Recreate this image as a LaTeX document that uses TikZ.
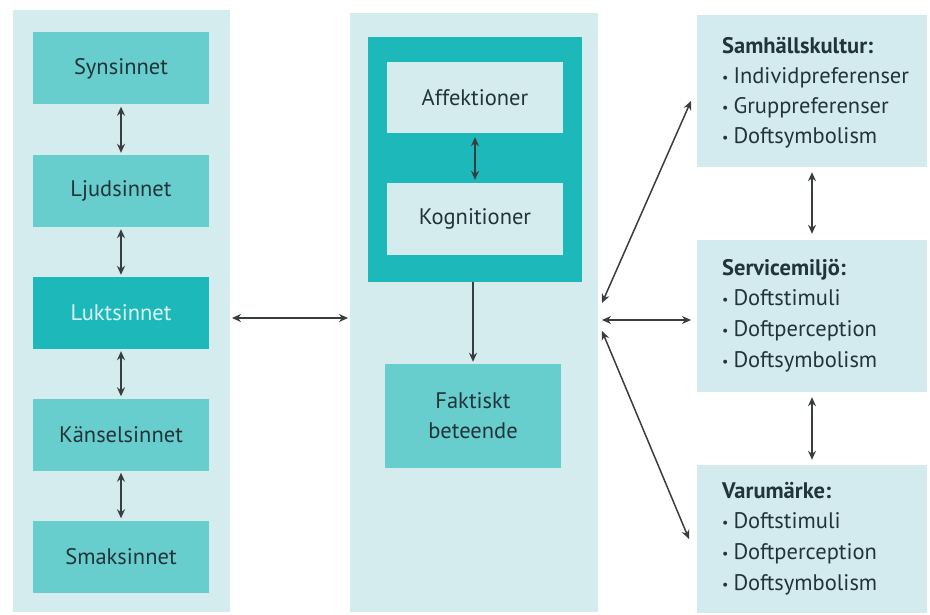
\documentclass[tikz,border=0pt]{standalone}
\usepackage{fontspec}
\setmainfont{PT Sans}
\usetikzlibrary{arrows.meta}

\definecolor{panelbg}{HTML}{D5ECEF}
\definecolor{rightbg}{HTML}{D3EAEE}
\definecolor{tealmid}{HTML}{68CDCD}
\definecolor{tealdark}{HTML}{1DB8BA}
\definecolor{inkdark}{HTML}{22343B}
\definecolor{inklight}{HTML}{DDF7F7}
\definecolor{arrowgray}{HTML}{383D40}

\tikzset{
  panel/.style={fill=panelbg, draw=none, inner sep=0pt},
  sensebox/.style={fill=tealmid, draw=none, minimum width=176pt, minimum height=72pt,
    text=inkdark, font=\fontsize{22.5}{30}\selectfont, align=center, inner sep=0pt},
  keybox/.style={sensebox, fill=tealdark, text=inklight},
  innerbox/.style={sensebox, fill=panelbg},
  frame/.style={fill=tealdark, draw=none, inner sep=0pt},
  infobox/.style={fill=rightbg, draw=none, inner sep=0pt, minimum width=230pt},
  infoline/.style={anchor=base west, inner sep=0pt, text=inkdark,
    font=\fontsize{22.5}{30}\selectfont},
  link/.style={draw=arrowgray, line width=1.5pt,
    {Stealth[length=9pt,width=8pt]}-{Stealth[length=9pt,width=8pt]}},
  onelink/.style={draw=arrowgray, line width=1.5pt, -{Stealth[length=9pt,width=8pt]}},
}
\newcommand{\bul}{\raisebox{1pt}{\fontsize{14}{14}\selectfont\textbullet}\hspace{5pt}}

\begin{document}
\begin{tikzpicture}[x=1pt,y=-1pt]
  \useasboundingbox (0,0) rectangle (930,615);

  % senses column
  \node[panel, minimum width=217pt, minimum height=602pt] (left) at (121.5,311) {};
  \node[sensebox] (syn) at (121,68.5) {Synsinnet};
  \node[sensebox] (ljud) at (121,191) {Ljudsinnet};
  \node[keybox] (lukt) at (121,313) {Luktsinnet};
  \node[sensebox] (kans) at (121,434.5) {Känselsinnet};
  \node[sensebox] (smak) at (121,556.5) {Smaksinnet};

  \draw[link, shorten <=2pt, shorten >=2pt] (syn) -- (ljud);
  \draw[link, shorten <=2pt, shorten >=2pt] (ljud) -- (lukt);
  \draw[link, shorten <=2pt, shorten >=2pt] (lukt) -- (kans);
  \draw[link, shorten <=2pt, shorten >=2pt] (kans) -- (smak);

  % response column
  \node[panel, minimum width=248pt, minimum height=599pt] (mid) at (474,312.5) {};
  \node[frame, minimum width=214pt, minimum height=245pt] (inner) at (475,159.5) {};
  \node[innerbox, minimum height=71pt] (aff) at (475,97.5) {Affektioner};
  \node[innerbox] (kog) at (475,219) {Kognitioner};
  \node[sensebox, minimum height=104pt] (fakt) at (473,416) {Faktiskt\\beteende};

  \draw[link, shorten <=4pt, shorten >=3pt] (aff) -- (kog);
  \draw[onelink, shorten >=2pt] (inner.south -| fakt.north) -- (fakt.north);

  % context column
  \node[infobox, minimum height=152pt] (sam) at (812,91) {};
  \node[infobox, minimum height=152pt] (serv) at (812,316) {};
  \node[infobox, minimum height=148pt] (varu) at (812,539) {};

  \node[infoline] (samt) at (722,54) {\bfseries Samhällskultur:};
  \node[infoline] (sam1) at (722,84) {\bul Individpreferenser};
  \node[infoline] (sam2) at (722,114) {\bul Gruppreferenser};
  \node[infoline] (sam3) at (722,144) {\bul Doftsymbolism};

  \node[infoline] (servt) at (722,275) {\bfseries Servicemiljö:};
  \node[infoline] (serv1) at (722,305) {\bul Doftstimuli};
  \node[infoline] (serv2) at (722,336) {\bul Doftperception};
  \node[infoline] (serv3) at (722,367) {\bul Doftsymbolism};

  \node[infoline] (varut) at (722,498) {\bfseries Varumärke:};
  \node[infoline] (varu1) at (722,528) {\bul Doftstimuli};
  \node[infoline] (varu2) at (722,559) {\bul Doftperception};
  \node[infoline] (varu3) at (722,590) {\bul Doftsymbolism};

  \draw[link, shorten <=5pt, shorten >=6pt] (sam) -- (serv);
  \draw[link, shorten <=5pt, shorten >=5pt] (serv) -- (varu);

  % links between the columns
  \coordinate (hubA) at (602,303);
  \coordinate (hubB) at (602,320);
  \coordinate (hubC) at (602,331);
  \coordinate (samIn) at (691,101);
  \coordinate (servIn) at (691,320);
  \coordinate (varuIn) at (689,539);
  \coordinate (luktOut) at (232,318);
  \coordinate (midIn) at (348,318);

  \draw[link] (luktOut) -- (midIn);
  \draw[link] (hubA) -- (samIn);
  \draw[link] (hubB) -- (servIn);
  \draw[link] (hubC) -- (varuIn);
\end{tikzpicture}
\end{document}
